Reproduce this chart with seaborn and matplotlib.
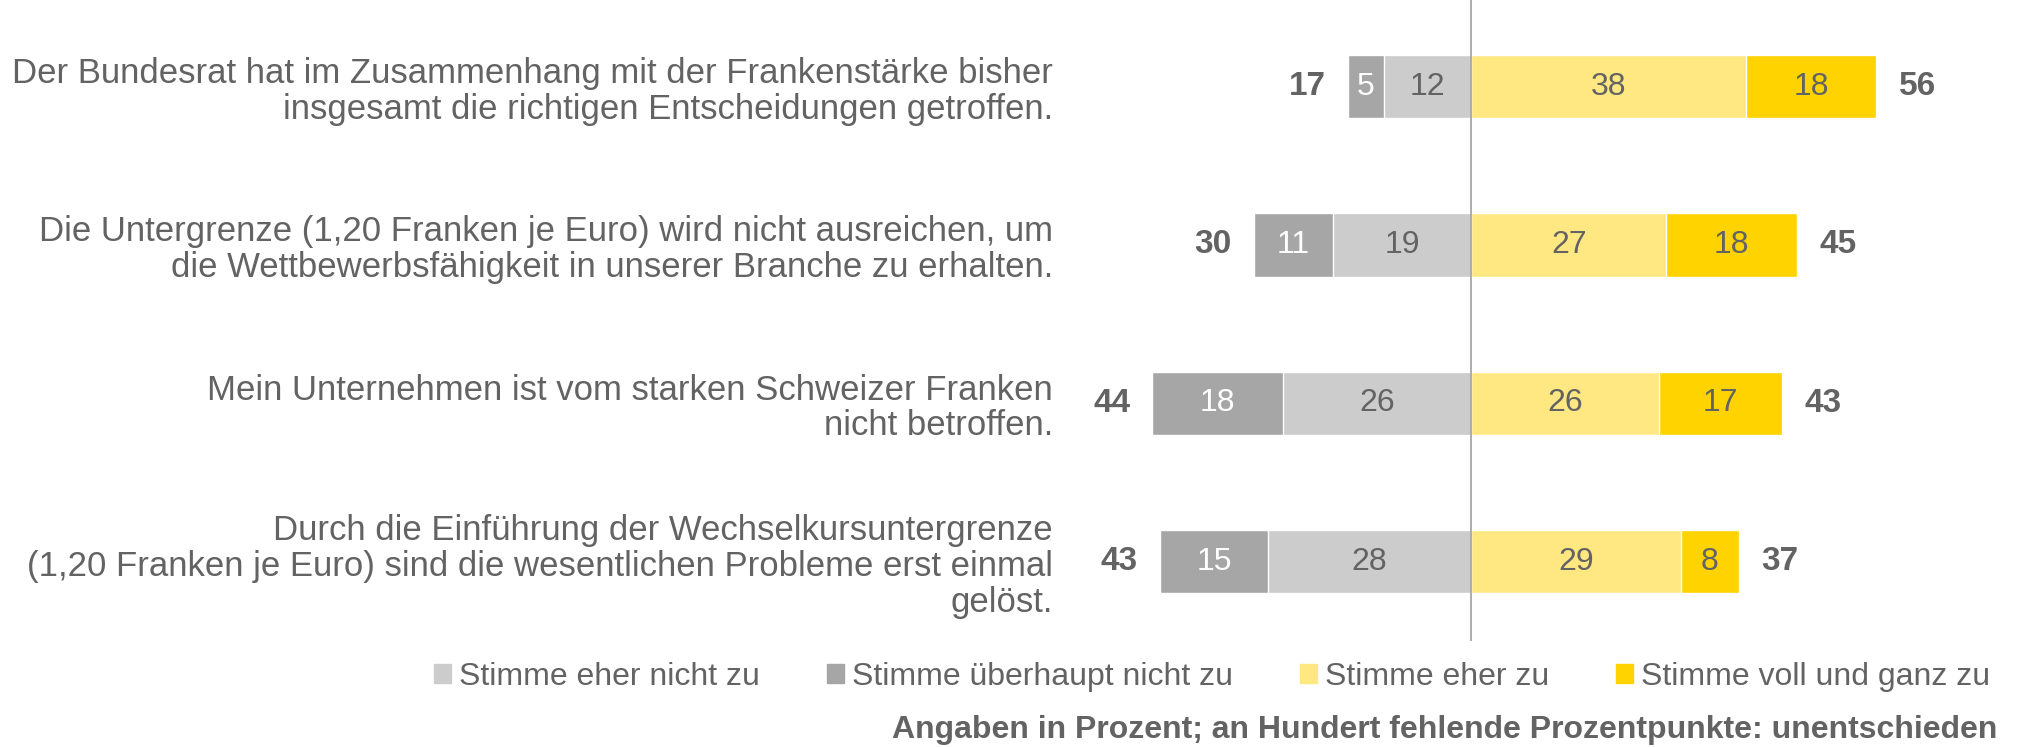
import matplotlib
matplotlib.use("Agg")
import matplotlib.pyplot as plt
from matplotlib.patches import Patch
import seaborn as sns
import pandas as pd

questions = [
    "Der Bundesrat hat im Zusammenhang mit der Frankenstärke bisher\ninsgesamt die richtigen Entscheidungen getroffen.",
    "Die Untergrenze (1,20 Franken je Euro) wird nicht ausreichen, um\ndie Wettbewerbsfähigkeit in unserer Branche zu erhalten.",
    "Mein Unternehmen ist vom starken Schweizer Franken\nnicht betroffen.",
    "Durch die Einführung der Wechselkursuntergrenze\n(1,20 Franken je Euro) sind die wesentlichen Probleme erst einmal\ngelöst.",
]
eher_nicht = [12, 19, 26, 28]
ueberhaupt_nicht = [5, 11, 18, 15]
eher_zu = [38, 27, 26, 29]
voll_zu = [18, 18, 17, 8]
total_neg = [17, 30, 44, 43]
total_pos = [56, 45, 43, 37]
legend_labels = ["Stimme eher nicht zu", "Stimme überhaupt nicht zu",
                 "Stimme eher zu", "Stimme voll und ganz zu"]
footnote = "Angaben in Prozent; an Hundert fehlende Prozentpunkte: unentschieden"

c_light_gray = "#CCCCCC"
c_dark_gray = "#A6A6A6"
c_light_yel = "#FFE781"
c_yel = "#FFD300"
txt = "#636363"

sns.set_theme(style="white")
plt.rcParams["font.family"] = ["Liberation Sans", "DejaVu Sans"]

df = pd.DataFrame({
    "q": questions,
    "neg_full": [-(a + b) for a, b in zip(eher_nicht, ueberhaupt_nicht)],
    "neg_light": [-a for a in eher_nicht],
    "pos_full": [a + b for a, b in zip(eher_zu, voll_zu)],
    "pos_light": eher_zu,
})

fig = plt.figure(figsize=(20.17, 7.47), dpi=100)
ax = fig.add_axes([1100 / 2017, 1 - 641 / 747, 900 / 2017, 641 / 747])

h = 0.40
kw = dict(orient="h", width=h, ax=ax, saturation=1, edgecolor="white", linewidth=1)
sns.barplot(data=df, x="neg_full", y="q", color=c_dark_gray, **kw)
sns.barplot(data=df, x="neg_light", y="q", color=c_light_gray, **kw)
sns.barplot(data=df, x="pos_full", y="q", color=c_yel, **kw)
sns.barplot(data=df, x="pos_light", y="q", color=c_light_yel, **kw)

ax.set_xlim((1100 - 1471) / 7.24, (2000 - 1471) / 7.24)
ax.set_ylim(3.5, -0.546)
ax.axvline(0, color="#A6A6A6", lw=1.3, zorder=5)

fs = 23
for i in range(len(questions)):
    en, un, ez, vz = eher_nicht[i], ueberhaupt_nicht[i], eher_zu[i], voll_zu[i]
    ax.text(-en - un / 2, i, str(un), ha="center", va="center", color="white", fontsize=fs)
    ax.text(-en / 2, i, str(en), ha="center", va="center", color=txt, fontsize=fs)
    ax.text(ez / 2, i, str(ez), ha="center", va="center", color=txt, fontsize=fs)
    ax.text(ez + vz / 2, i, str(vz), ha="center", va="center", color=txt, fontsize=fs)
    ax.annotate(str(total_neg[i]), (-(en + un), i), xytext=(-16, 0), textcoords="offset points",
                ha="right", va="center", color=txt, fontsize=fs + 1, fontweight="bold")
    ax.annotate(str(total_pos[i]), (ez + vz, i), xytext=(16, 0), textcoords="offset points",
                ha="left", va="center", color=txt, fontsize=fs + 1, fontweight="bold")

ax.set_xlabel("")
ax.set_ylabel("")
ax.set_xticks([])
ax.tick_params(axis="y", length=0, pad=34, labelsize=25, labelcolor=txt)
for lab in ax.get_yticklabels():
    lab.set_linespacing(1.1)
for s in ax.spines.values():
    s.set_visible(False)

handles = [Patch(color=c) for c in [c_light_gray, c_dark_gray, c_light_yel, c_yel]]
fig.legend(handles, legend_labels, loc="center", bbox_to_anchor=(1212 / 2017, 1 - 677 / 747),
           ncol=4, frameon=False, fontsize=23, handlelength=0.53, handleheight=0.53,
           handletextpad=0.25, columnspacing=2.1, labelcolor=txt, borderpad=0, borderaxespad=0)

fig.text(1997 / 2017, 1 - 730 / 747, footnote, ha="right", va="center", fontsize=23,
         fontweight="bold", color=txt)

fig.savefig("out.png", dpi=100)
